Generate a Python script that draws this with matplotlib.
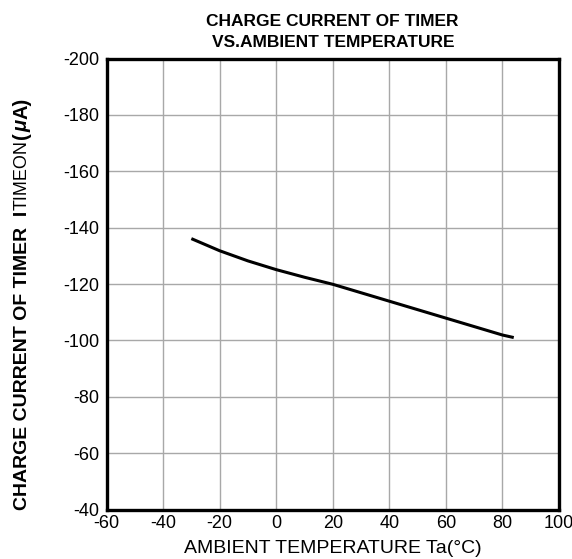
import matplotlib
matplotlib.use("Agg")
import matplotlib.pyplot as plt

temps = [-30, -20, -10, 0, 10, 20, 30, 40, 50, 60, 70, 80, 84]
current = [-136.1, -131.8, -128.2, -125.1, -122.4, -119.9, -116.9, -113.9, -110.9, -107.9, -104.9, -101.9, -101.0]
xticks = [-60, -40, -20, 0, 20, 40, 60, 80, 100]
yticks = [-200, -180, -160, -140, -120, -100, -80, -60, -40]

plt.rcParams['font.family'] = ['Liberation Sans', 'DejaVu Sans']

W, H = 572, 559
fig = plt.figure(figsize=(W / 100, H / 100), dpi=100)
ax = fig.add_axes([106.5 / W, 1 - 509.5 / H, (559 - 106.5) / W, (509.5 - 58.5) / H])

ax.plot(temps, current, color='black', lw=2.2, solid_capstyle='butt')
ax.set_xlim(-60, 100)
ax.set_ylim(-40, -200)
ax.set_xticks(xticks)
ax.set_yticks(yticks)
ax.set_xticklabels([str(v) for v in xticks], fontsize=13)
ax.set_yticklabels([str(v) for v in yticks], fontsize=13)
ax.tick_params(axis='y', length=0, pad=5)
ax.tick_params(axis='x', length=0, pad=4)
ax.grid(True, color='#a8a8a8', lw=1.0)
for s in ax.spines.values():
    s.set_linewidth(2.4)
    s.set_color('black')

ax.set_title("CHARGE CURRENT OF TIMER\nVS.AMBIENT TEMPERATURE", fontsize=12.5,
             fontweight='bold', linespacing=1.55, pad=8)
ax.set_xlabel("AMBIENT TEMPERATURE Ta(°C)", fontsize=14, labelpad=6)

# y-label composed of pieces (rotated, reading bottom to top)
fig.canvas.draw()
renderer = fig.canvas.get_renderer()
pieces = [
    ("CHARGE CURRENT OF TIMER  I", 14.0, 'bold', 'normal', 1.0),
    ("TIMEON", 13.0, 'normal', 'normal', 1.0),
    ("(", 14.5, 'bold', 'normal', 0.0),
    ("\u03bc", 14.5, 'bold', 'italic', 0.5),
    ("A)", 14.5, 'bold', 'normal', 0.0),
]
xb = 27 / W
ypix = H - 510
for txt, fs, fw, st, gap in pieces:
    t = fig.text(xb, ypix / H, txt, rotation=90, rotation_mode='anchor',
                 ha='left', va='baseline', fontsize=fs, fontweight=fw, fontstyle=st)
    bb = t.get_window_extent(renderer)
    ypix = bb.y1 + gap

fig.savefig("out.png", dpi=100)
